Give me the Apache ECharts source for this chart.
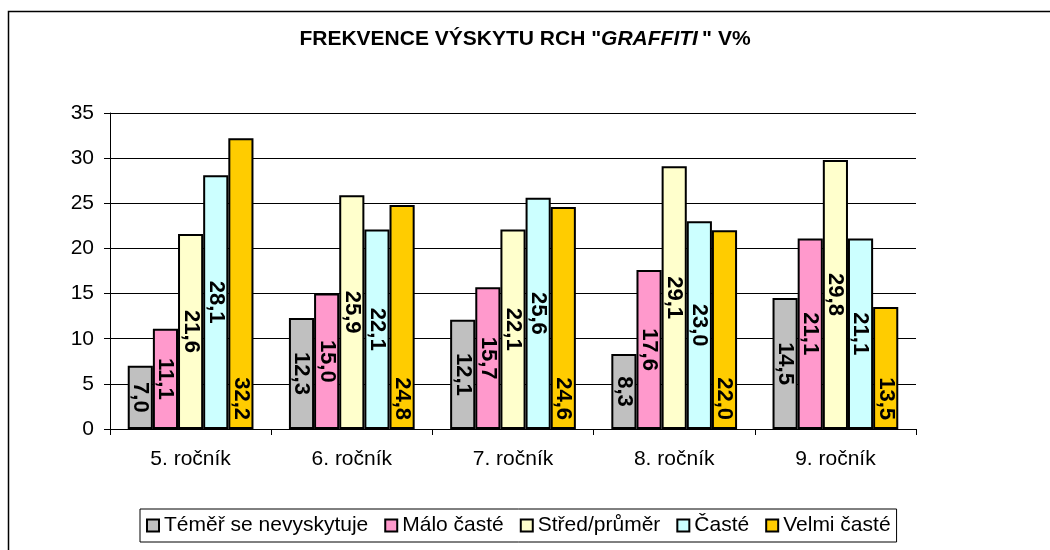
<!DOCTYPE html>
<html lang="cs">
<head>
    <meta charset="UTF-8">
    <title>Frekvence výskytu RCH graffiti</title>
    <style>
        body {
            margin: 0;
            background: #fff;
        }
        #chart {
            width: 1050px;
            height: 550px;
        }
    </style>
</head>
<body>
<div id="chart"></div>

<script src="https://cdn.jsdelivr.net/npm/echarts@6/dist/echarts.min.js"></script>
<script>
    // data
    const categories = ['5. ročník', '6. ročník', '7. ročník', '8. ročník', '9. ročník'];
    const seriesNames = ['Téměř se nevyskytuje', 'Málo časté', 'Střed/průměr', 'Časté', 'Velmi časté'];
    const temerSeNevyskytuje = [7.0, 12.3, 12.1, 8.3, 14.5];
    const maloCaste = [11.1, 15.0, 15.7, 17.6, 21.1];
    const stredPrumer = [21.6, 25.9, 22.1, 29.1, 29.8];
    const caste = [28.1, 22.1, 25.6, 23.0, 21.1];
    const velmiCaste = [32.2, 24.8, 24.6, 22.0, 13.5];
    const colors = ['#C0C0C0', '#FF99CC', '#FFFFCC', '#CCFFFF', '#FFCC00'];

    const FONT = "'Liberation Sans', Arial, sans-serif";
    const values = [temerSeNevyskytuje, maloCaste, stredPrumer, caste, velmiCaste];

    const chart = echarts.init(document.getElementById('chart'));

    const series = seriesNames.map(function (name, i) {
        // the last series has its labels at the bar base, the others centred
        const atBase = i === 4;
        return {
            name: name,
            type: 'bar',
            data: values[i],
            barGap: '0%',
            barCategoryGap: '22%',
            itemStyle: {
                color: colors[i],
                borderColor: '#000',
                borderWidth: 2
            },
            label: {
                show: true,
                position: atBase ? 'insideBottom' : 'inside',
                distance: 9,
                rotate: -90,
                align: atBase ? 'right' : 'center',
                verticalAlign: 'middle',
                color: '#000',
                fontFamily: FONT,
                fontWeight: 'bold',
                fontSize: 22,
                formatter: function (p) {
                    return p.value.toFixed(1).replace('.', ',');
                }
            }
        };
    });

    chart.setOption({
        animation: false,
        title: {
            text: 'FREKVENCE VÝSKYTU RCH "{i|GRAFFITI}\u2009" V%',
            left: 'center',
            top: 29,
            padding: [0, 0, 0, 20],
            textStyle: {
                fontFamily: FONT,
                fontWeight: 'bold',
                fontSize: 21,
                color: '#000',
                rich: {
                    i: {
                        fontFamily: FONT,
                        fontWeight: 'bold',
                        fontStyle: 'italic',
                        fontSize: 21,
                        color: '#000'
                    }
                }
            }
        },
        legend: {
            left: 140,
            top: 509,
            icon: 'rect',
            itemWidth: 12,
            itemHeight: 12,
            itemGap: 16,
            padding: [6, 6],
            borderColor: '#000',
            borderWidth: 1,
            textStyle: {
                fontFamily: FONT,
                fontSize: 21,
                color: '#000'
            }
        },
        grid: {
            left: 110,
            right: 134,
            top: 113,
            bottom: 121
        },
        xAxis: {
            type: 'category',
            data: categories,
            axisLine: { lineStyle: { color: '#000', width: 1 } },
            axisTick: { show: true, length: 6, lineStyle: { color: '#000' } },
            axisLabel: {
                margin: 20,
                fontFamily: FONT,
                fontSize: 21,
                color: '#000'
            }
        },
        yAxis: {
            type: 'value',
            min: 0,
            max: 35,
            interval: 5,
            axisLine: { show: true, lineStyle: { color: '#000', width: 1 } },
            axisTick: { show: true, length: 6, lineStyle: { color: '#000' } },
            splitLine: { lineStyle: { color: '#000', width: 1 } },
            axisLabel: {
                margin: 16,
                fontFamily: FONT,
                fontSize: 21,
                color: '#000'
            }
        },
        graphic: [{
            type: 'rect',
            silent: true,
            shape: { x: 8.5, y: 11.5, width: 1100, height: 600 },
            style: { fill: 'none', stroke: '#000', lineWidth: 1.5 }
        }],
        series: series
    });
</script>
</body>
</html>
